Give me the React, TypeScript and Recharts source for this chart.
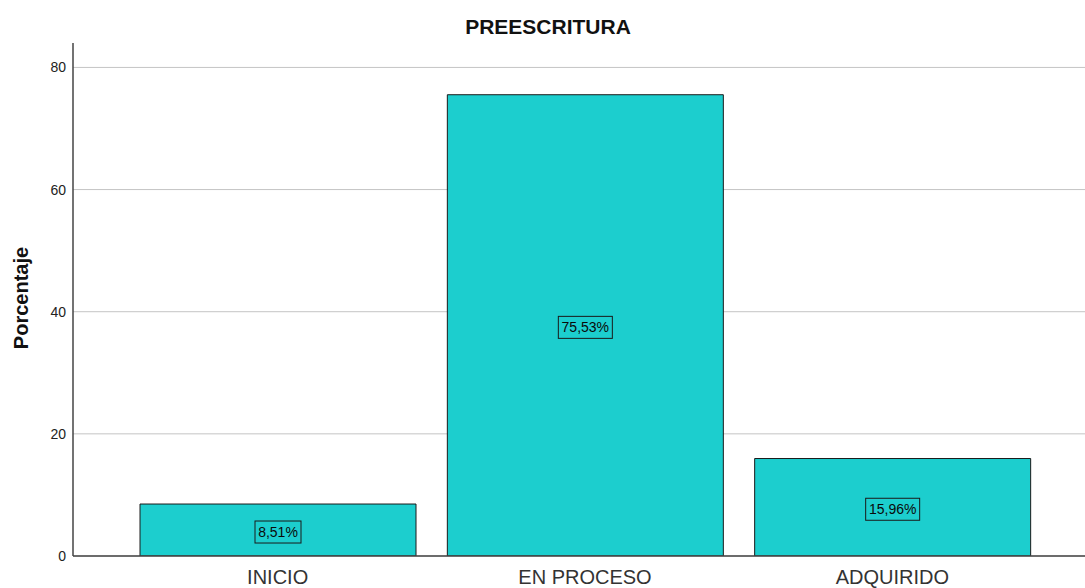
import React from 'react';
import { BarChart, Bar, XAxis, YAxis, CartesianGrid, LabelList } from 'recharts';

const categories = ['INICIO', 'EN PROCESO', 'ADQUIRIDO'];
const percentages = [8.51, 75.53, 15.96];
const yTicks = [0, 20, 40, 60, 80];

const data = categories.map((c, i) => ({ name: c, value: percentages[i] }));

const fmt = (v: number) => v.toFixed(2).replace('.', ',') + '%';

const BoxLabel = (props: any) => {
  const { x, y, width, height, value } = props;
  const text = fmt(Number(value));
  const w = text.length * 8 + 6;
  const h = 22;
  const cx = Number(x) + Number(width) / 2;
  const cy = Number(y) + Number(height) / 2 + 2;
  return (
    <g>
      <rect x={cx - w / 2} y={cy - h / 2} width={w} height={h} fill="none" stroke="#1a1a1a" strokeWidth={1} />
      <text x={cx} y={cy} dy="0.36em" textAnchor="middle" fontSize={14} fill="#0a0a0a" fontFamily="Liberation Sans, Arial, sans-serif">
        {text}
      </text>
    </g>
  );
};

export default function App() {
  return (
    <div style={{ position: 'absolute', left: 0, top: 0, width: 1085, height: 588, background: '#fff', fontFamily: 'Liberation Sans, Arial, sans-serif' }}>
      <BarChart width={1085} height={588} data={data} margin={{ top: 43, right: 0, bottom: 0, left: 0 }}>
        <CartesianGrid horizontal={true} vertical={false} horizontalValues={yTicks} stroke="#c4c4c4" strokeWidth={1} />
        <XAxis
          dataKey="name"
          height={32}
          padding={{ left: 51, right: 39 }}
          axisLine={{ stroke: '#444', strokeWidth: 1.5 }}
          tickLine={false}
          tickMargin={8}
          tick={{ fontSize: 20, fill: '#333', fontFamily: 'Liberation Sans, Arial, sans-serif' }}
          interval={0}
        />
        <YAxis
          width={73}
          domain={[0, 84]}
          ticks={yTicks}
          allowDataOverflow={true}
          axisLine={{ stroke: '#444', strokeWidth: 1.5 }}
          tickLine={false}
          tickMargin={1}
          tick={{ fontSize: 14, fill: '#222', fontFamily: 'Liberation Sans, Arial, sans-serif' }}
        />
        <Bar dataKey="value" fill="#1ccece" stroke="#1a1a1a" strokeWidth={1} barSize={276} isAnimationActive={false}>
          <LabelList dataKey="value" content={BoxLabel} />
        </Bar>
      </BarChart>
      <svg width={1085} height={588} style={{ position: 'absolute', left: 0, top: 0, pointerEvents: 'none' }}>
        <text x={548} y={34} textAnchor="middle" fontSize={21} fontWeight="bold" fill="#111" fontFamily="Liberation Sans, Arial, sans-serif">
          PREESCRITURA
        </text>
        <text x={28} y={298} textAnchor="middle" fontSize={20} fontWeight="bold" fill="#111" fontFamily="Liberation Sans, Arial, sans-serif" transform="rotate(-90, 28, 298)">
          Porcentaje
        </text>
      </svg>
    </div>
  );
}
